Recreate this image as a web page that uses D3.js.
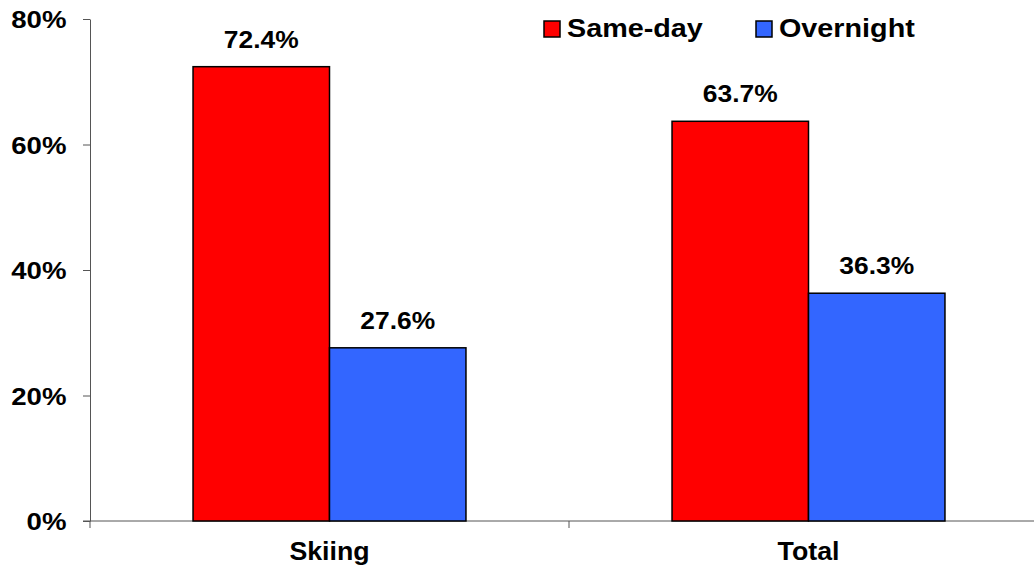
<!DOCTYPE html>
<html>
<head>
<meta charset="utf-8">
<script src="https://cdn.jsdelivr.net/npm/d3@7"></script>
<style>
  html, body { margin: 0; padding: 0; background: #fff; }
  svg { display: block; }
  text { font-family: "Liberation Sans", Arial, sans-serif; font-weight: bold; fill: #000; }
</style>
</head>
<body>
<svg id="chart" width="1034" height="567"></svg>
<script>
// Trip type share by activity
const categories = ["Skiing", "Total"];
const seriesNames = ["Same-day", "Overnight"];
const sameDay = [72.4, 63.7];
const overnight = [27.6, 36.3];
const yTicks = [0, 20, 40, 60, 80];
const colors = ["#FF0000", "#3366FF"];

const svg = d3.select("#chart");
const margin = { left: 90, top: 19, bottom: 46 };
const plotRight = 1048;
const height = 567;

const x0 = d3.scaleBand().domain(categories).range([margin.left, plotRight]).paddingInner(0).paddingOuter(0);
const x1 = d3.scaleBand().domain(seriesNames).range([0, x0.bandwidth()]).paddingInner(0).paddingOuter(0.755);
const y = d3.scaleLinear().domain([0, 80]).range([height - margin.bottom, margin.top]);

const rows = categories.map((c, i) => ({
  category: c,
  values: [
    { series: seriesNames[0], value: sameDay[i] },
    { series: seriesNames[1], value: overnight[i] }
  ]
}));
const color = d3.scaleOrdinal().domain(seriesNames).range(colors);

// Wide bold lettering: text is placed by transform and stretched horizontally
const place = (x, y, sx) => `translate(${x},${y}) scale(${sx},1)`;

// Y axis
const yAxis = svg.append("g")
  .attr("transform", `translate(${margin.left},0)`)
  .call(d3.axisLeft(y).tickValues(yTicks).tickSize(7).tickSizeOuter(0).tickFormat(d => d + "%"));
yAxis.select(".domain").attr("stroke", "#555");
yAxis.selectAll(".tick line").attr("stroke", "#555");
yAxis.selectAll(".tick text")
  .attr("font-size", 24)
  .attr("font-family", null)
  .attr("x", 0)
  .attr("dy", "0.36em")
  .attr("transform", place(-23.5, 0, 1.15));

// X axis baseline with ticks at category boundaries
const xAxis = svg.append("g").attr("transform", `translate(0,${y(0)})`);
xAxis.append("line")
  .attr("x1", margin.left - 7).attr("x2", 1034)
  .attr("y1", 0).attr("y2", 0)
  .attr("stroke", "#555");
xAxis.selectAll("line.tick")
  .data(categories)
  .join("line")
  .attr("class", "tick")
  .attr("x1", d => x0(d)).attr("x2", d => x0(d))
  .attr("y1", 0).attr("y2", 7)
  .attr("stroke", "#555");
xAxis.selectAll("text.cat")
  .data(categories)
  .join("text")
  .attr("class", "cat")
  .attr("transform", d => place(x0(d) + x0.bandwidth() / 2, 39, 1.07))
  .attr("text-anchor", "middle")
  .attr("font-size", 25)
  .text(d => d);

// Bars
const groups = svg.selectAll("g.group")
  .data(rows)
  .join("g")
  .attr("class", "group")
  .attr("transform", d => `translate(${x0(d.category)},0)`);

groups.selectAll("rect")
  .data(d => d.values)
  .join("rect")
  .attr("x", d => x1(d.series))
  .attr("width", x1.bandwidth())
  .attr("y", d => y(d.value))
  .attr("height", d => y(0) - y(d.value))
  .attr("fill", d => color(d.series))
  .attr("stroke", "#000")
  .attr("stroke-width", 1.5);

groups.selectAll("text.val")
  .data(d => d.values)
  .join("text")
  .attr("class", "val")
  .attr("transform", d => place(x1(d.series) + x1.bandwidth() / 2, y(d.value) - 19, 1.1))
  .attr("text-anchor", "middle")
  .attr("font-size", 24)
  .text(d => d.value.toFixed(1) + "%");

// Legend
const legendX = [544, 756];
const legend = svg.selectAll("g.legend")
  .data(seriesNames)
  .join("g")
  .attr("class", "legend")
  .attr("transform", (d, i) => `translate(${legendX[i]},21)`);
legend.append("rect")
  .attr("width", 16).attr("height", 16)
  .attr("fill", d => color(d))
  .attr("stroke", "#000")
  .attr("stroke-width", 1.5);
legend.append("text")
  .attr("transform", place(23, 16, 1.15))
  .attr("font-size", 25)
  .text(d => d);
</script>
</body>
</html>
